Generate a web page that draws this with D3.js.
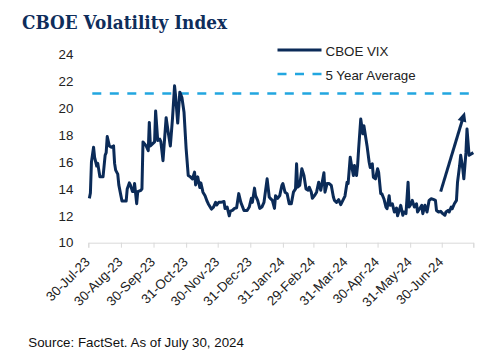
<!DOCTYPE html>
<html>
<head>
<meta charset="utf-8">
<script src="https://cdn.jsdelivr.net/npm/d3@7"></script>
<style>
  html, body { margin: 0; padding: 0; background: #ffffff; }
  svg { display: block; }
</style>
</head>
<body>
<svg id="chart" width="488" height="356"></svg>
<script>
// ---------------- DATA ----------------
const titleText = "CBOE Volatility Index";
const sourceText = "Source: FactSet. As of July 30, 2024";
const seriesNames = ["CBOE VIX", "5 Year Average"];

const dates = [
  "2023-07-31","2023-08-01","2023-08-02","2023-08-04","2023-08-05","2023-08-07","2023-08-08","2023-08-10",
  "2023-08-13","2023-08-15","2023-08-16","2023-08-17","2023-08-19","2023-08-21","2023-08-23","2023-08-24",
  "2023-08-25","2023-08-27","2023-08-28","2023-08-30","2023-08-31","2023-09-04","2023-09-05","2023-09-07",
  "2023-09-08","2023-09-10","2023-09-11","2023-09-12","2023-09-14","2023-09-15","2023-09-18","2023-09-19",
  "2023-09-20","2023-09-23","2023-09-25","2023-09-26","2023-09-27","2023-09-29","2023-10-01","2023-10-02",
  "2023-10-04","2023-10-06","2023-10-07","2023-10-09","2023-10-12","2023-10-14","2023-10-16","2023-10-18",
  "2023-10-20","2023-10-21","2023-10-23","2023-10-25","2023-10-27","2023-10-29","2023-10-31","2023-11-02",
  "2023-11-04","2023-11-06","2023-11-08","2023-11-09","2023-11-11","2023-11-13","2023-11-14","2023-11-16",
  "2023-11-18","2023-11-20","2023-11-21","2023-11-24","2023-11-26","2023-11-28","2023-11-29","2023-12-01",
  "2023-12-03","2023-12-06","2023-12-07","2023-12-09","2023-12-11","2023-12-12","2023-12-14","2023-12-16",
  "2023-12-18","2023-12-20","2023-12-22","2023-12-25","2023-12-28","2023-12-30","2024-01-01","2024-01-02",
  "2024-01-04","2024-01-05","2024-01-07","2024-01-09","2024-01-11","2024-01-13","2024-01-16","2024-01-18",
  "2024-01-19","2024-01-21","2024-01-23","2024-01-24","2024-01-26","2024-01-28","2024-01-30","2024-01-31",
  "2024-02-02","2024-02-04","2024-02-06","2024-02-08","2024-02-10","2024-02-12","2024-02-13","2024-02-14",
  "2024-02-16","2024-02-18","2024-02-20","2024-02-22","2024-02-24","2024-02-25","2024-02-27","2024-02-28",
  "2024-03-01","2024-03-03","2024-03-05","2024-03-07","2024-03-10","2024-03-11","2024-03-13","2024-03-15",
  "2024-03-17","2024-03-19","2024-03-20","2024-03-22","2024-03-24","2024-03-26","2024-03-28","2024-03-30",
  "2024-04-01","2024-04-02","2024-04-04","2024-04-05","2024-04-07","2024-04-08","2024-04-10","2024-04-11",
  "2024-04-12","2024-04-14","2024-04-16","2024-04-17","2024-04-19","2024-04-20","2024-04-22","2024-04-23",
  "2024-04-25","2024-04-26","2024-04-28","2024-04-30","2024-05-01","2024-05-03","2024-05-04","2024-05-06",
  "2024-05-08","2024-05-09","2024-05-11","2024-05-12","2024-05-14","2024-05-16","2024-05-18","2024-05-19",
  "2024-05-22","2024-05-24","2024-05-25","2024-05-27","2024-05-29","2024-05-30","2024-06-01","2024-06-02",
  "2024-06-04","2024-06-06","2024-06-07","2024-06-09","2024-06-11","2024-06-12","2024-06-14","2024-06-16",
  "2024-06-18","2024-06-20","2024-06-22","2024-06-24","2024-06-25","2024-06-27","2024-06-29","2024-07-01",
  "2024-07-03","2024-07-04","2024-07-06","2024-07-07","2024-07-09","2024-07-10","2024-07-12","2024-07-14",
  "2024-07-15","2024-07-17","2024-07-18","2024-07-20","2024-07-21","2024-07-23","2024-07-24","2024-07-26",
  "2024-07-28","2024-07-30"
];

const vix = [
  13.3,13.7,16.0,17.1,16.35,15.7,15.9,14.9,
  14.9,16.5,16.7,17.9,17.2,17.1,17.2,15.9,
  15.4,15.1,14.3,13.5,13.1,13.1,14.0,14.45,
  14.3,13.8,13.8,14.4,12.9,13.8,13.9,14.0,
  17.5,17.2,16.85,18.95,17.2,17.35,17.5,19.8,
  17.6,17.7,17.5,16.1,19.3,18.2,17.2,19.2,
  21.67,20.9,18.9,21.2,20.8,19.7,17.0,15.0,
  14.9,14.75,15.25,14.3,14.9,14.1,14.45,13.76,
  13.5,13.07,12.9,12.5,12.65,13.0,12.8,13.0,
  13.0,13.07,12.55,12.65,12.0,12.35,12.4,12.55,
  12.6,13.65,13.0,12.4,12.4,12.65,13.3,13.0,
  14.06,13.5,13.15,12.55,12.65,13.0,14.75,13.4,
  13.3,13.15,12.55,13.5,13.3,13.5,14.26,14.4,
  13.76,13.65,12.9,12.9,13.76,14.0,15.87,14.13,
  14.26,15.5,15.0,14.0,13.9,14.13,13.76,13.3,
  13.5,13.76,14.5,13.9,15.2,13.76,14.4,14.4,
  14.26,13.4,13.15,13.0,13.2,12.83,13.15,13.47,
  14.5,14.4,16.36,15.87,15.0,15.74,15.0,15.74,
  16.98,19.2,18.1,18.7,17.7,17.2,15.98,15.6,
  15.87,14.87,14.75,15.5,15.25,13.65,13.65,13.27,
  12.65,12.53,13.5,12.78,12.9,12.28,12.58,12.0,
  12.78,12.04,12.28,12.16,14.5,12.65,12.9,13.15,
  12.65,12.9,12.28,12.53,12.78,12.16,12.78,12.28,
  13.15,13.27,13.22,13.15,12.4,12.28,12.33,12.16,
  12.04,12.28,12.4,12.28,12.65,12.53,12.9,13.15,
  14.5,15.74,16.5,15.5,14.75,16.7,18.46,16.5,
  16.6,16.7
];

const fiveYearAverage = 21.1;
const averageSpan = ["2023-07-30", "2024-07-30"];

const tickDates = [
  "2023-07-30","2023-08-30","2023-09-30","2023-10-31","2023-11-30","2023-12-31",
  "2024-01-31","2024-02-29","2024-03-31","2024-04-30","2024-05-31","2024-06-30","2024-07-30"
];
const tickLabels = [
  "30-Jul-23","30-Aug-23","30-Sep-23","31-Oct-23","30-Nov-23","31-Dec-23",
  "31-Jan-24","29-Feb-24","31-Mar-24","30-Apr-24","31-May-24","30-Jun-24",""
];
const yTicks = [10, 12, 14, 16, 18, 20, 22, 24];

// trend arrow annotation (date, value) start -> end
const arrowDates = ["2024-06-29", "2024-07-22"];
const arrowValues = [13.8, 19.75];

// ---------------- DRAW ----------------
const parse = d3.timeParse("%Y-%m-%d");
const navy = "#0b2b58";
const lightBlue = "#22a6e0";
const font = "'Liberation Sans', Arial, sans-serif";

const svg = d3.select("#chart");

const x = d3.scaleTime()
  .domain([parse(tickDates[0]), parse(tickDates[tickDates.length - 1])])
  .range([88.3, 473.3]);
const y = d3.scaleLinear().domain([10, 24]).range([242.7, 54.5]);

// title
svg.append("text")
  .attr("x", 22).attr("y", 29)
  .attr("font-family", "'DejaVu Serif', Georgia, serif")
  .attr("font-weight", "bold")
  .attr("font-size", 18.3)
  .attr("fill", "#0e2d5b")
  .attr("textLength", 205)
  .attr("lengthAdjust", "spacingAndGlyphs")
  .text(titleText);

// y axis labels
const yAxis = d3.axisLeft(y).tickValues(yTicks).tickSize(0).tickPadding(15).tickFormat(d3.format("d"));
const gy = svg.append("g").attr("transform", `translate(${x.range()[0]},0)`).call(yAxis);
gy.select(".domain").remove();
gy.selectAll("text")
  .attr("font-family", font).attr("font-size", 13.33).attr("fill", "#222");

// x axis
const tickDateObjs = tickDates.map(parse);
const xAxis = d3.axisBottom(x)
  .tickValues(tickDateObjs)
  .tickSize(5)
  .tickFormat((d, i) => tickLabels[i]);
const gx = svg.append("g").attr("transform", `translate(0,${y(10)})`).call(xAxis);
gx.select(".domain").attr("stroke", "#d9d9d9").attr("stroke-width", 1);
gx.selectAll(".tick line").attr("stroke", "#d9d9d9").attr("stroke-width", 1);
gx.selectAll("text")
  .attr("font-family", font).attr("font-size", 13.33).attr("fill", "#222")
  .attr("text-anchor", "end")
  .attr("x", 0).attr("y", 0).attr("dy", 0)
  .attr("transform", "translate(2,20) rotate(-45)");

// 5 year average dashed line
const avgLine = d3.line().x(d => x(parse(d))).y(() => y(fiveYearAverage));
svg.append("path")
  .attr("d", avgLine(averageSpan))
  .attr("fill", "none")
  .attr("stroke", lightBlue)
  .attr("stroke-width", 2.5)
  .attr("stroke-dasharray", "9,8.5")
  .attr("stroke-dashoffset", 13.5);

// VIX line
const series = dates.map((d, i) => ({ date: parse(d), value: vix[i] }));
const line = d3.line().x(d => x(d.date)).y(d => y(d.value));
svg.append("path")
  .datum(series)
  .attr("d", line)
  .attr("fill", "none")
  .attr("stroke", navy)
  .attr("stroke-width", 3)
  .attr("stroke-linejoin", "round");

// arrow annotation
const ax0 = x(parse(arrowDates[0])), ay0 = y(arrowValues[0]);
const ax1 = x(parse(arrowDates[1])), ay1 = y(arrowValues[1]);
const ang = Math.atan2(ay1 - ay0, ax1 - ax0);
const headLen = 10, headHalf = 4.5;
const bx = ax1 - headLen * Math.cos(ang), by = ay1 - headLen * Math.sin(ang);
svg.append("line")
  .attr("x1", ax0).attr("y1", ay0).attr("x2", bx + 2 * Math.cos(ang)).attr("y2", by + 2 * Math.sin(ang))
  .attr("stroke", navy).attr("stroke-width", 3);
svg.append("polygon")
  .attr("points", [
    [ax1, ay1],
    [bx + headHalf * Math.sin(ang), by - headHalf * Math.cos(ang)],
    [bx - headHalf * Math.sin(ang), by + headHalf * Math.cos(ang)]
  ].map(p => p.join(",")).join(" "))
  .attr("fill", navy);

// legend
const legend = svg.append("g");
legend.append("line").attr("x1", 277.5).attr("x2", 321.5).attr("y1", 50).attr("y2", 50)
  .attr("stroke", navy).attr("stroke-width", 3.2);
legend.append("text").attr("x", 325.5).attr("y", 55.5)
  .attr("font-family", font).attr("font-size", 13.33).attr("fill", "#222").text(seriesNames[0]);
legend.append("line").attr("x1", 277.5).attr("x2", 321.5).attr("y1", 74).attr("y2", 74)
  .attr("stroke", lightBlue).attr("stroke-width", 2.5).attr("stroke-dasharray", "9,8.5");
legend.append("text").attr("x", 325.5).attr("y", 79.5)
  .attr("font-family", font).attr("font-size", 13.33).attr("fill", "#222").text(seriesNames[1]);

// source
svg.append("text").attr("x", 28.3).attr("y", 347)
  .attr("font-family", font).attr("font-size", 13.33).attr("fill", "#111").text(sourceText);
</script>
</body>
</html>
